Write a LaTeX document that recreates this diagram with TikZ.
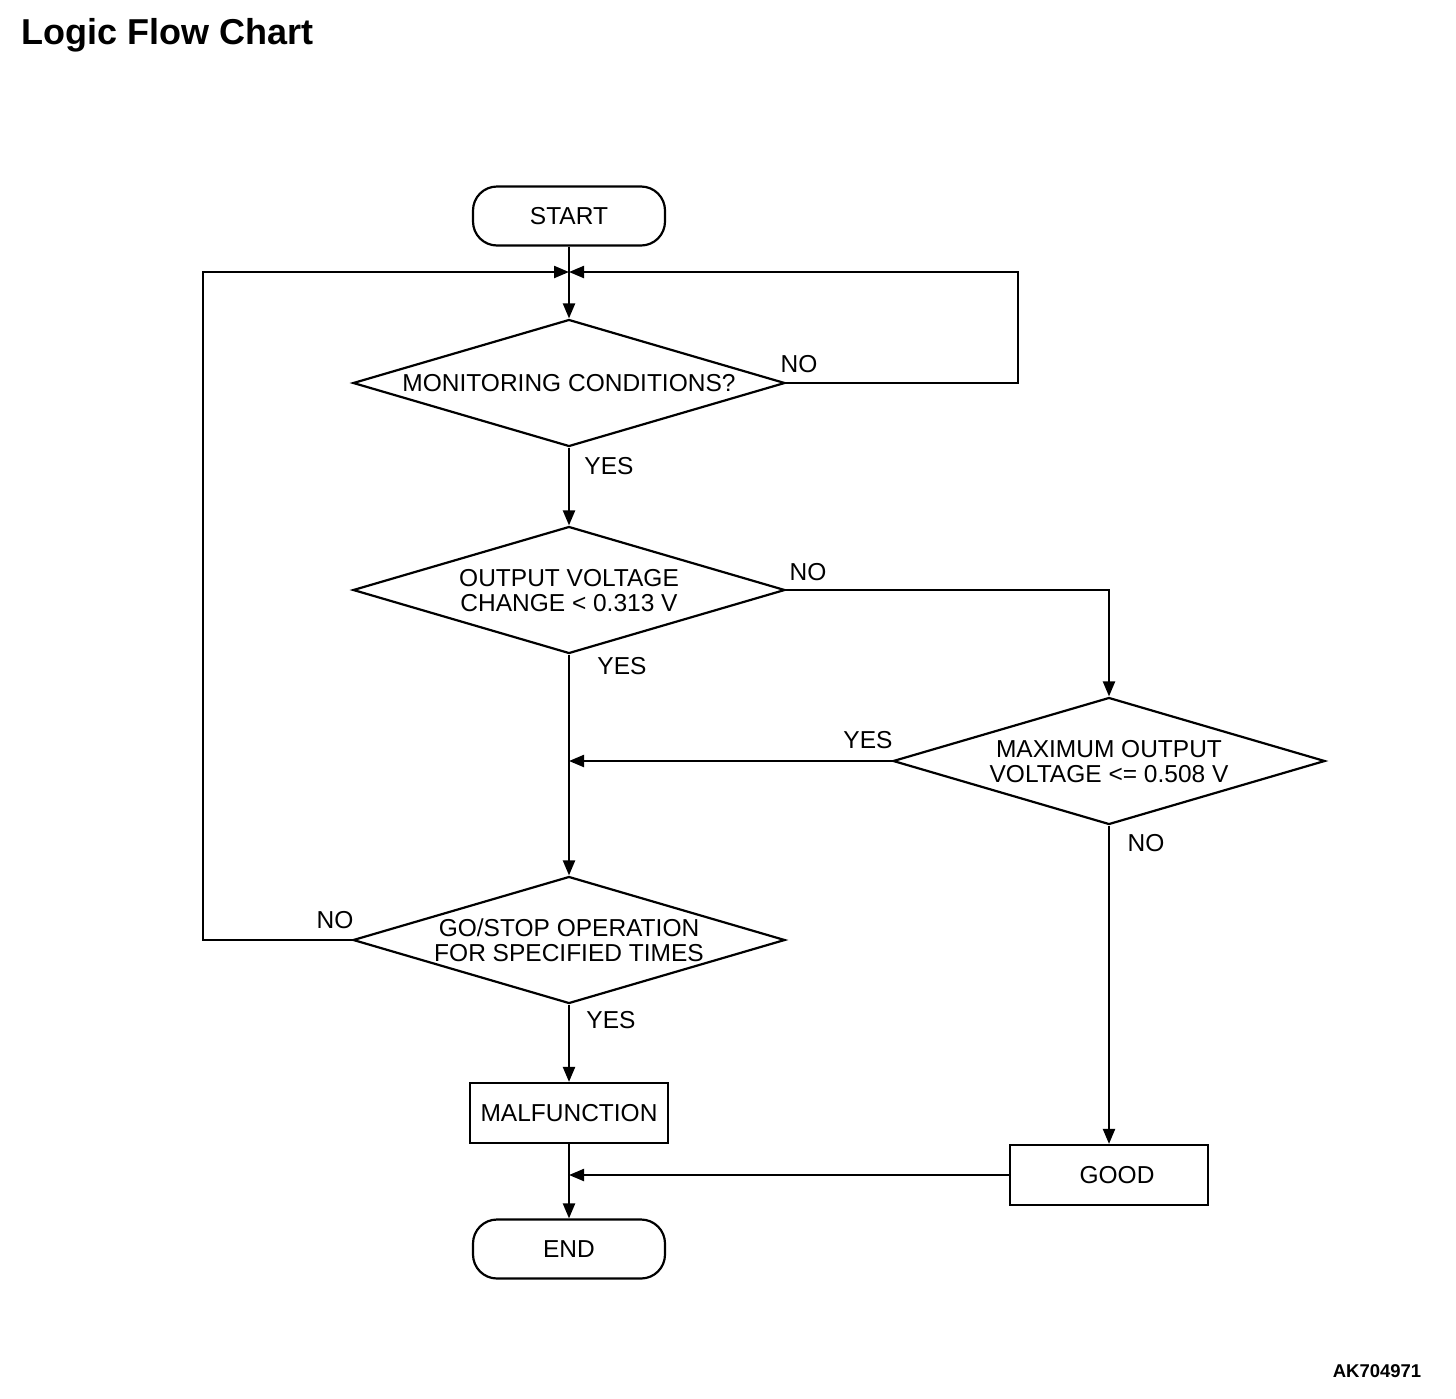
\documentclass[tikz,border=0pt]{standalone}
\usepackage{fontspec}
\setmainfont{Liberation Sans}
\usetikzlibrary{shapes.geometric,arrows.meta}
\tikzset{
    chart/.style={line width=2.2pt, font=\fontsize{24.5}{25}\selectfont},
    terminal/.style={draw, rounded corners=24pt, minimum width=192pt, minimum height=59pt, inner sep=0pt},
    decision/.style={draw, diamond, aspect=3.4016, minimum width=432pt, minimum height=127pt, inner sep=0pt, align=center},
    process/.style={draw, minimum width=198pt, minimum height=60pt, inner sep=0pt},
    flow/.style={-{Triangle[length=15pt,width=12pt]}},
    answer/.style={inner sep=0pt}
}

\begin{document}
\begin{tikzpicture}[x=1pt, y=-1pt, chart]
\useasboundingbox (0,0) rectangle (1456,1398);
%Title
\node[anchor=west, inner sep=0pt, font=\fontsize{36}{38}\selectfont\bfseries] (title) at (20,35) {Logic Flow Chart};
\node[font=\fontsize{18.5}{20}\selectfont\bfseries] (code) at (1377,1371) {AK704971};
%Boxes
\node[terminal] (start) at (569,216) {START};
\node[decision] (monitor) at (569,383) {MONITORING CONDITIONS?};
\node[decision] (change) at (569,590) {\strut OUTPUT VOLTAGE\\CHANGE < 0.313 V};
\node[decision] (maxout) at (1109,761) {\strut MAXIMUM OUTPUT\\VOLTAGE <= 0.508 V};
\node[decision] (gostop) at (569,940) {\strut GO/STOP OPERATION\\FOR SPECIFIED TIMES};
\node[process] (malfunc) at (569,1113) {MALFUNCTION};
\node[process] (good) at (1109,1175) {\hspace*{16pt}GOOD};
\node[terminal] (finish) at (569,1249) {END};
%Junctions
\coordinate (merge) at (569,272);
\coordinate (loopleft) at (203,272);
\coordinate (loopright) at (1018,272);
\coordinate (joinyes) at (569,761);
\coordinate (joingood) at (569,1175);
%Connectors
\draw[flow] (start) -- (monitor.north);
\draw[flow] (monitor.east) -| (loopright) -- (merge);
\draw[flow] (gostop.west) -| (loopleft) -- (merge);
\draw[flow] (monitor.south) -- (change.north);
\draw[flow] (change.east) -| (maxout.north);
\draw[flow] (maxout.west) -- (joinyes);
\draw[flow] (change.south) -- (gostop.north);
\draw[flow] (maxout.south) -- (good.north);
\draw[flow] (gostop.south) -- (malfunc.north);
\draw[flow] (good.west) -- (joingood);
\draw[flow] (malfunc.south) -- (finish.north);
%Labels
\node[answer] (n1) at (799,364) {NO};
\node[answer] (y1) at (609,466) {YES};
\node[answer] (n2) at (808,572) {NO};
\node[answer] (y2) at (622,666) {YES};
\node[answer] (y3) at (868,740) {YES};
\node[answer] (n3) at (1146,843) {NO};
\node[answer] (n4) at (335,920) {NO};
\node[answer] (y4) at (611,1020) {YES};
\end{tikzpicture}
\end{document}
